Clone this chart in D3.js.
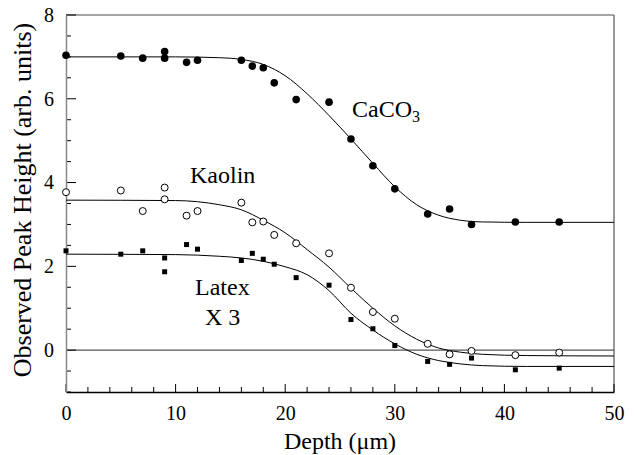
<!DOCTYPE html>
<html>
<head>
<meta charset="utf-8">
<script src="https://cdn.jsdelivr.net/npm/d3@7"></script>
<style>
  body { margin: 0; background: #fff; }
  text { font-family: "Liberation Serif", "Times New Roman", serif; fill: #000; }
</style>
</head>
<body>
<svg id="chart" width="634" height="455"></svg>
<script>
// measured points (depth in um, peak height)
const caco3Depth = [0, 5, 7, 9, 9, 11, 12, 16, 17, 18, 19, 21, 24, 26, 28, 30, 33, 35, 37, 41, 45];
const caco3Value = [7.04, 7.02, 6.97, 7.13, 6.97, 6.87, 6.92, 6.92, 6.78, 6.74, 6.38, 5.98, 5.92, 5.04, 4.40, 3.85, 3.25, 3.37, 3.00, 3.06, 3.06];

const kaolinDepth = [0, 5, 7, 9, 9, 11, 12, 16, 17, 18, 19, 21, 24, 26, 28, 30, 33, 35, 37, 41, 45];
const kaolinValue = [3.77, 3.81, 3.32, 3.88, 3.60, 3.21, 3.32, 3.52, 3.05, 3.07, 2.75, 2.55, 2.31, 1.49, 0.91, 0.75, 0.15, -0.10, -0.02, -0.12, -0.06];

const latexDepth = [0, 5, 7, 9, 9, 11, 12, 16, 17, 18, 19, 21, 24, 26, 28, 30, 33, 35, 37, 41, 45];
const latexValue = [2.37, 2.29, 2.37, 2.20, 1.87, 2.52, 2.41, 2.14, 2.31, 2.17, 2.05, 1.73, 1.55, 0.73, 0.51, 0.11, -0.27, -0.34, -0.19, -0.47, -0.43];

// fitted curves
const fitDepth = [0, 10, 14, 16, 18, 20, 22, 24, 26, 28, 30, 32, 34, 36, 38, 42, 50];
const caco3Fit  = [7.0, 7.0, 6.98, 6.94, 6.82, 6.55, 6.12, 5.6, 5.04, 4.46, 3.90, 3.47, 3.22, 3.10, 3.06, 3.05, 3.05];
const kaolinFit = [3.58, 3.57, 3.47, 3.35, 3.10, 2.80, 2.40, 1.98, 1.48, 1.0, 0.58, 0.26, 0.05, -0.05, -0.10, -0.13, -0.14];
const latexFit  = [2.29, 2.28, 2.24, 2.20, 2.12, 1.99, 1.80, 1.42, 0.88, 0.48, 0.15, -0.10, -0.25, -0.33, -0.37, -0.39, -0.39];

const xTicks = [0, 10, 20, 30, 40, 50];
const yTicks = [0, 2, 4, 6, 8];

const svg = d3.select('#chart');
const margin = { top: 15, right: 20, bottom: 63, left: 66 };
const width = 634 - margin.left - margin.right;
const height = 455 - margin.top - margin.bottom;

const g = svg.append('g')
	.attr('transform', 'translate(' + margin.left + ',' + margin.top + ')');

const x = d3.scaleLinear().domain([0, 50]).range([0, width]);
const y = d3.scaleLinear().domain([-1, 8]).range([height, 0]);

// frame
g.append('line').attr('x1', 0).attr('x2', width).attr('y1', 0).attr('y2', 0)
	.attr('stroke', '#888').attr('stroke-width', 1.5);
g.append('line').attr('x1', width).attr('x2', width).attr('y1', 0).attr('y2', height)
	.attr('stroke', '#555').attr('stroke-width', 1.2);

// zero line
g.append('line').attr('x1', 0).attr('x2', width).attr('y1', y(0)).attr('y2', y(0))
	.attr('stroke', '#555').attr('stroke-width', 1.2);

// minor ticks (drawn inward)
const xMinor = d3.range(0, 51, 2);
g.selectAll('.xminor').data(xMinor).join('line')
	.attr('x1', d => x(d)).attr('x2', d => x(d))
	.attr('y1', height).attr('y2', d => height - (d % 10 === 0 ? 8 : 5))
	.attr('stroke', '#000').attr('stroke-width', 1);
const yMinor = d3.range(-1, 8.01, 0.5);
g.selectAll('.yminor').data(yMinor).join('line')
	.attr('x1', 0).attr('x2', d => (d % 2 === 0 ? 10 : 5))
	.attr('y1', d => y(d)).attr('y2', d => y(d))
	.attr('stroke', '#000').attr('stroke-width', 1);

// axes
const xAxis = g.append('g')
	.attr('transform', 'translate(0,' + height + ')')
	.call(d3.axisBottom(x).tickValues(xTicks).tickSize(0).tickPadding(14));
xAxis.select('.domain').attr('stroke', '#000').attr('stroke-width', 1.5);
xAxis.selectAll('text').style('font-size', '20px').style('font-family', '"Liberation Serif", serif');

const yAxis = g.append('g')
	.call(d3.axisLeft(y).tickValues(yTicks).tickSize(0).tickPadding(12));
yAxis.select('.domain').attr('stroke', '#888').attr('stroke-width', 1.5);
yAxis.selectAll('text').style('font-size', '20px').style('font-family', '"Liberation Serif", serif');

// fitted curves
const line = d3.line()
	.x((d, i) => x(fitDepth[i]))
	.y(d => y(d))
	.curve(d3.curveMonotoneX);

[caco3Fit, kaolinFit, latexFit].forEach(fit => {
	g.append('path')
		.datum(fit)
		.attr('d', line)
		.attr('fill', 'none')
		.attr('stroke', '#000')
		.attr('stroke-width', 1);
});

// markers
g.selectAll('.caco3').data(caco3Value).join('circle')
	.attr('cx', (d, i) => x(caco3Depth[i]))
	.attr('cy', d => y(d))
	.attr('r', 3.8)
	.attr('fill', '#000');

g.selectAll('.kaolin').data(kaolinValue).join('circle')
	.attr('cx', (d, i) => x(kaolinDepth[i]))
	.attr('cy', d => y(d))
	.attr('r', 3.5)
	.attr('fill', '#fff')
	.attr('stroke', '#000')
	.attr('stroke-width', 1);

g.selectAll('.latex').data(latexValue).join('rect')
	.attr('x', (d, i) => x(latexDepth[i]) - 2.5)
	.attr('y', d => y(d) - 2.5)
	.attr('width', 5)
	.attr('height', 5)
	.attr('fill', '#000');

// series labels
const lab = svg.append('g').style('font-size', '24px');
const ca = lab.append('text').attr('x', 352).attr('y', 117);
ca.append('tspan').text('CaCO');
ca.append('tspan').text('3').attr('dy', 5).style('font-size', '16px');
lab.append('text').attr('x', 190).attr('y', 183).text('Kaolin');
lab.append('text').attr('x', 195).attr('y', 295).text('Latex');
lab.append('text').attr('x', 205).attr('y', 325).text('X 3');

// axis titles
svg.append('text')
	.attr('x', 340).attr('y', 449)
	.attr('text-anchor', 'middle')
	.style('font-size', '24px')
	.text('Depth (\u03bcm)');

svg.append('text')
	.attr('transform', 'translate(31,200) rotate(-90)')
	.attr('text-anchor', 'middle')
	.style('font-size', '26px')
	.text('Observed Peak Height (arb. units)');
</script>
</body>
</html>
